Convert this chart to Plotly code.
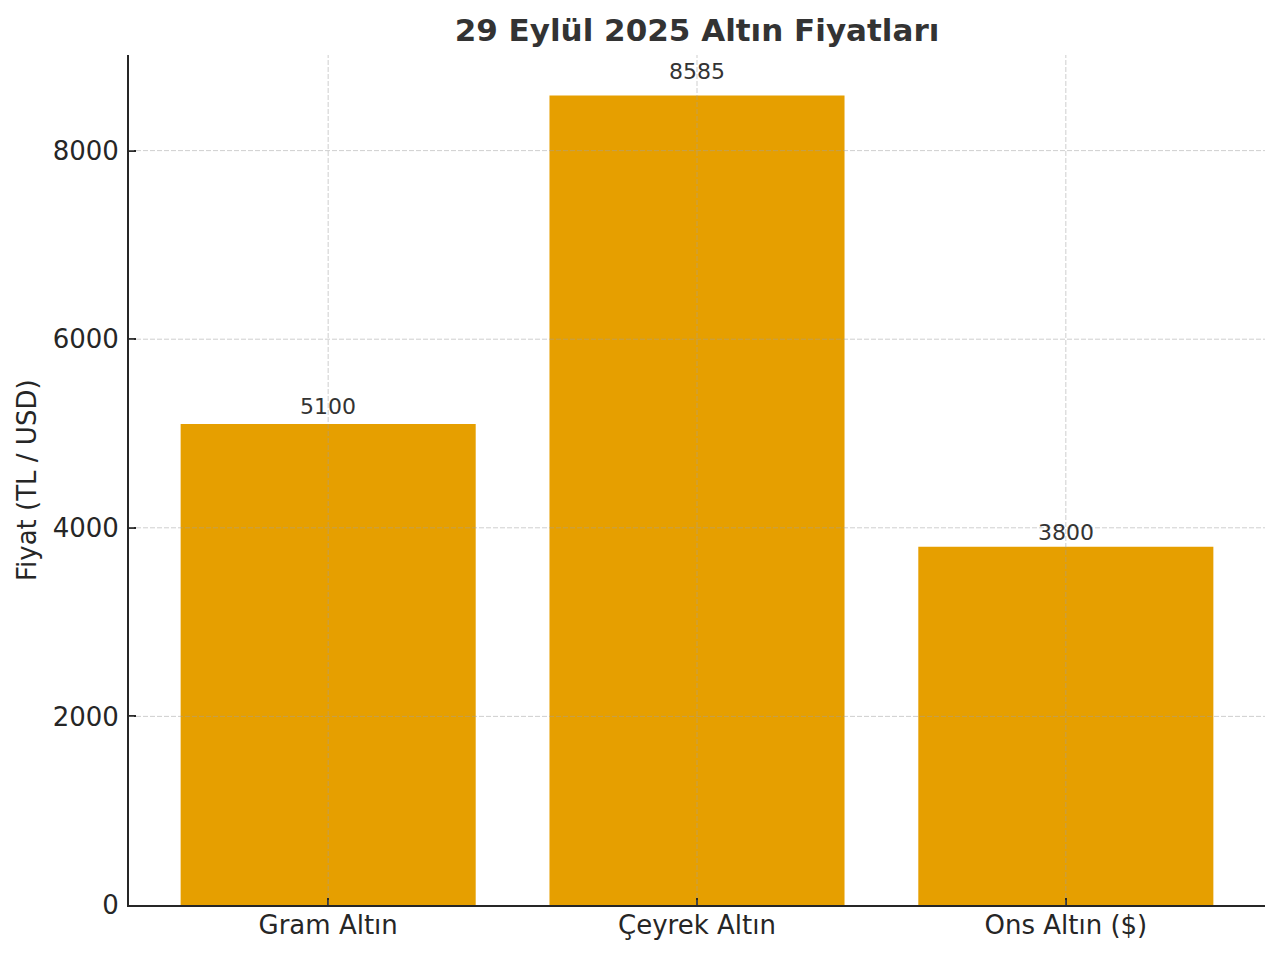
import plotly.graph_objects as go

categories = ["Gram Altın", "Çeyrek Altın", "Ons Altın ($)"]
values = [5100, 8585, 3800]
y_ticks = [0, 2000, 4000, 6000, 8000]
title_text = "29 Eylül 2025 Altın Fiyatları"
y_title = "Fiyat (TL / USD)"

BAR_COLOR = "#E69F00"
TEXT_COLOR = "#262626"
GRID_COLOR = "rgba(160,160,160,0.5)"
FONT = "DejaVu Sans"

W, H = 1272, 948
L, R, T, B = 121, 15, 47, 51
PW = W - L - R

fig = go.Figure()
fig.add_trace(go.Bar(
    x=categories, y=values, marker=dict(color=BAR_COLOR, line=dict(width=0)),
    width=0.8, showlegend=False, hoverinfo="skip",
))

# value labels (placed slightly above each bar, proportional to its value)
for c, v in zip(categories, values):
    fig.add_annotation(x=c, y=v * 1.02, text=str(v), showarrow=False, xanchor="center",
                       yanchor="bottom", yshift=-7,
                       font=dict(family=FONT, size=22, color="#333333"))

# y-axis title
fig.add_annotation(xref="paper", yref="paper", x=(19 - L) / PW, y=0.5, text=y_title,
                   textangle=-90, showarrow=False, xanchor="center", yanchor="middle",
                   font=dict(family=FONT, size=26, color=TEXT_COLOR))

shapes = []
for c in categories:
    shapes.append(dict(type="line", xref="x", yref="paper", x0=c, x1=c, y0=0, y1=1,
                       line=dict(color=GRID_COLOR, width=1, dash="5px,2px"), layer="above"))
for t in y_ticks[1:]:
    shapes.append(dict(type="line", xref="paper", yref="y", x0=0, x1=1, y0=t, y1=t,
                       line=dict(color=GRID_COLOR, width=1, dash="5px,2px"), layer="above"))

fig.update_layout(
    width=W, height=H,
    paper_bgcolor="white", plot_bgcolor="white",
    margin=dict(l=L, r=R, t=T, b=B, pad=0),
    font=dict(family=FONT, color=TEXT_COLOR),
    title=dict(text="<b>" + title_text + "</b>", x=(L + W - R) / 2 / W, xanchor="center",
               y=1 - 22 / H, yanchor="middle",
               font=dict(family=FONT, size=31, color="#333333")),
    bargap=0.2,
    shapes=shapes,
    xaxis=dict(
        range=[-0.54, 2.54], showgrid=False, showline=True, linecolor=TEXT_COLOR, linewidth=2,
        ticks="inside", ticklen=7, tickwidth=2, tickcolor=TEXT_COLOR, ticklabelstandoff=-4,
        tickfont=dict(family=FONT, size=26, color=TEXT_COLOR), zeroline=False,
        automargin=False,
    ),
    yaxis=dict(
        range=[0, 9014], tickvals=y_ticks, tickformat="d", showgrid=False, zeroline=False,
        showline=True, linecolor=TEXT_COLOR, linewidth=2,
        ticks="inside", ticklen=7, tickwidth=2, tickcolor=TEXT_COLOR, ticklabelstandoff=3,
        tickfont=dict(family=FONT, size=26, color=TEXT_COLOR),
        automargin=False,
    ),
)

fig.write_html("out.html")
